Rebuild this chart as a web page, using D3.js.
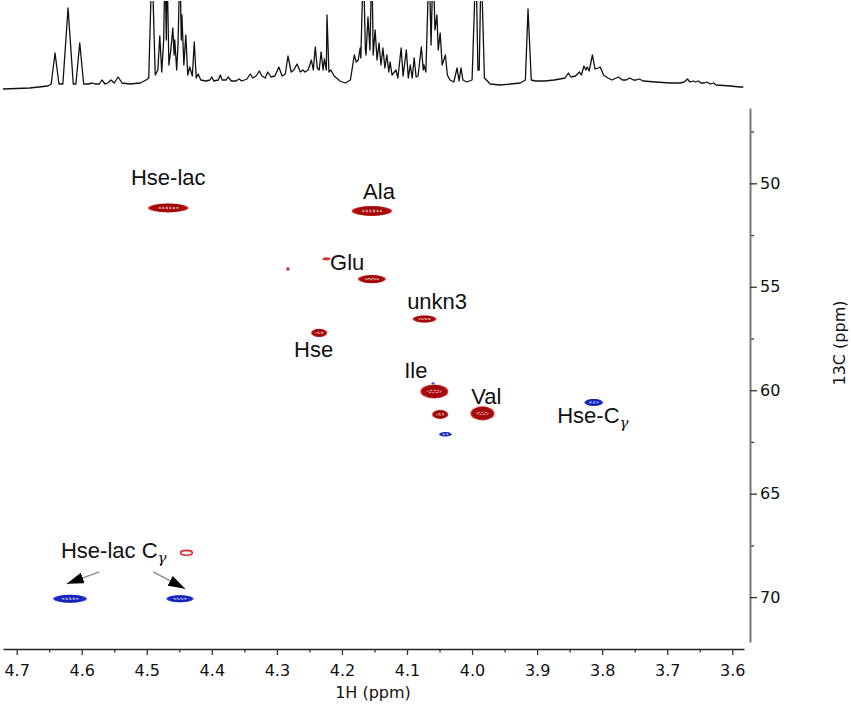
<!DOCTYPE html>
<meta charset="utf-8">

<head>
    <title>HSQC 1H-13C</title>
    <script src="https://d3js.org/d3.v7.min.js"></script>

    <style>
        body {
            margin: 0;
            background-color: white;
        }

        #svg {
            display: block;
            background-color: white;
        }

        .peak-label {
            font-family: "Liberation Sans", Arial, sans-serif;
            font-size: 22px;
            fill: #111;
        }

        .axis text,
        .axis-title {
            font-family: "DejaVu Sans", Verdana, sans-serif;
            font-size: 16px;
            fill: #111;
        }
    </style>
</head>

<body>
    <svg id="svg"></svg>

    <script>
        // 1D proton trace on top: chemical shift (ppm) and intensity (arb.)
        const specPpm = [
            4.721, 4.680, 4.652, 4.647, 4.641, 4.635, 4.629, 4.621, 4.613, 4.609, 4.603, 4.597, 4.590, 4.584, 4.580, 4.573, 4.569, 4.564, 4.560, 4.555, 4.550, 4.544, 4.538, 4.526, 4.510, 4.501, 4.497,
            4.492, 4.487, 4.483, 4.480, 4.477, 4.474, 4.472, 4.470, 4.469, 4.466, 4.463, 4.460, 4.458, 4.457, 4.454, 4.452, 4.449, 4.447, 4.446, 4.443, 4.440, 4.437, 4.434, 4.430, 4.427, 4.424, 4.421,
            4.417, 4.409, 4.403, 4.400, 4.397, 4.390, 4.387, 4.384, 4.378, 4.375, 4.370, 4.363, 4.358, 4.354, 4.346, 4.341, 4.337, 4.332, 4.327, 4.323, 4.318, 4.314, 4.309, 4.303, 4.297, 4.292, 4.287, 4.283, 4.278, 4.274, 4.269, 4.264, 4.260, 4.257, 4.252, 4.247, 4.244, 4.241, 4.238, 4.235, 4.232, 4.229, 4.227, 4.224, 4.223, 4.220, 4.217,
            4.212, 4.203, 4.195, 4.187, 4.181, 4.178, 4.175, 4.172, 4.171, 4.167, 4.164, 4.163, 4.160, 4.157, 4.154, 4.152, 4.149, 4.146, 4.143, 4.140, 4.137, 4.134, 4.131, 4.128, 4.126, 4.123,
            4.117, 4.114, 4.109, 4.106, 4.101, 4.098, 4.095, 4.092, 4.089, 4.086, 4.083, 4.078, 4.075, 4.074, 4.071, 4.066, 4.063, 4.060, 4.057, 4.054, 4.052, 4.049, 4.046, 4.041, 4.038, 4.034, 4.028, 4.023, 4.020, 4.017, 4.014, 4.008, 4.000,
            3.994, 3.991, 3.989, 3.986, 3.981, 3.972, 3.957, 3.941, 3.926, 3.918, 3.914, 3.909, 3.903, 3.888, 3.874, 3.865, 3.857, 3.852, 3.848, 3.841, 3.835, 3.832, 3.828, 3.825, 3.823, 3.820, 3.815, 3.811, 3.806, 3.803, 3.798, 3.791, 3.785, 3.775, 3.769, 3.763, 3.758, 3.752, 3.748, 3.743, 3.737, 3.718, 3.695, 3.680, 3.674, 3.669, 3.665, 3.660, 3.657, 3.652, 3.648, 3.643, 3.639, 3.634, 3.629, 3.625, 3.603, 3.588, 3.583
        ]
        const specInt = [
            1, 2, 4, 6, 37, 6, 6, 82, 6, 6, 47, 6, 6, 7, 6, 6, 10, 6, 7, 10, 7, 13, 7, 6, 7, 10, 12,
            130, 15, 20, 54, 18, 50, 130, 50, 130, 25, 40, 62, 35, 50, 20, 45, 130, 50, 75, 25, 55, 15, 23, 14, 48, 12, 16,
            10, 9, 10, 13, 9, 10, 15, 10, 10, 13, 9, 9, 11, 9, 11, 16, 12, 14, 19, 14, 12, 18, 13, 14, 23, 14, 16, 34, 18, 20, 26, 18, 20, 18, 20, 30, 20, 43, 22, 20, 38, 20, 31, 20, 75, 18, 20,
            14, 9, 7, 10, 35, 28, 30, 42, 32, 130, 40, 35, 73, 40, 130, 35, 60, 30, 47, 25, 42, 22, 35, 18, 28, 15,
            20, 12, 42, 14, 40, 12, 25, 12, 32, 13, 14, 43, 20, 25, 18, 130, 45, 130, 60, 75, 40, 57, 25, 35, 15, 10, 8, 22, 9, 22, 10, 8, 10,
            130, 20, 20, 130, 12, 6, 5, 6, 7, 10, 81, 10, 9, 9, 10, 11, 12, 17, 13, 14, 18, 15, 24, 20, 23, 19, 35, 21, 22, 23, 15, 12, 10, 13, 10, 10, 12, 10, 10, 11, 9, 8, 7, 7, 8, 11, 8, 9, 8, 9, 7, 7, 8, 6, 7, 5, 4, 3, 3
        ]

        // HSQC cross peaks: 1H shift, 13C shift, widths (ppm), phase
        const peakH = [4.467, 4.154, 4.283, 4.224, 4.154, 4.073, 4.235, 4.058, 4.060, 4.049, 3.984, 4.041, 3.813, 4.439, 4.618, 4.449]
        const peakC = [51.19, 51.34, 54.14, 53.65, 54.63, 56.56, 57.23, 60.06, 59.67, 61.17, 61.12, 62.13, 60.59, 67.86, 70.08, 70.08]
        const peakWH = [0.062, 0.062, 0.005, 0.012, 0.043, 0.037, 0.025, 0.043, 0.005, 0.025, 0.037, 0.020, 0.029, 0.018, 0.052, 0.042]
        const peakWC = [0.43, 0.48, 0.20, 0.15, 0.39, 0.34, 0.39, 0.68, 0.10, 0.43, 0.68, 0.19, 0.34, 0.24, 0.39, 0.34]
        const peakPhase = ['pos', 'pos', 'pos', 'pos', 'pos', 'pos', 'pos', 'pos', 'neg', 'pos', 'pos', 'neg', 'neg', 'weak', 'neg', 'neg']

        // assignments
        const labelText = ['Hse-lac', 'Ala', 'Glu', 'unkn3', 'Hse', 'Ile', 'Val', 'Hse-C', 'Hse-lac C']
        const labelSub = ['', '', '', '', '', '', '', 'γ', 'γ']
        const labelH = [4.5243, 4.1675, 4.2182, 4.0998, 4.2736, 4.1044, 4.0013, 3.8691, 4.6319]
        const labelC = [50.08, 50.76, 54.19, 56.07, 58.39, 59.43, 60.69, 61.60, 68.10]

        // arrows from the Hse-lac C-gamma label
        const arrowFromH = [4.573, 4.490]
        const arrowFromC = [68.78, 68.78]
        const arrowToH = [4.623, 4.441]
        const arrowToC = [69.36, 69.60]

        // axis ticks
        const hMajor = [4.7, 4.6, 4.5, 4.4, 4.3, 4.2, 4.1, 4.0, 3.9, 3.8, 3.7, 3.6]
        const hMinor = [4.65, 4.55, 4.45, 4.35, 4.25, 4.15, 4.05, 3.95, 3.85, 3.75, 3.65]
        const cMajor = [50, 55, 60, 65, 70]
        const cMinor = [47.5, 52.5, 57.5, 62.5, 67.5]

        const width = 851
        const height = 706

        let svg = d3.select('#svg')
            .attr('width', width)
            .attr('height', height)

        // scales (ppm axes run right to left / top to bottom)
        let x = d3.scaleLinear().domain([4.721, 3.582]).range([3, 744])
        let y = d3.scaleLinear().domain([46.36, 72.17]).range([108, 642])
        let yTop = d3.scaleLinear().domain([0, 90]).range([90, 0])

        // ---- 1D trace
        svg.append('clipPath')
            .attr('id', 'topclip')
            .append('rect')
            .attr('x', 0).attr('y', 1)
            .attr('width', width).attr('height', 100)

        let spec = specPpm.map((p, i) => [p, specInt[i]])
        let line = d3.line()
            .x(d => x(d[0]))
            .y(d => yTop(d[1]))

        svg.append('path')
            .datum(spec)
            .attr('clip-path', 'url(#topclip)')
            .attr('d', line)
            .attr('fill', 'none')
            .attr('stroke', '#111')
            .attr('stroke-width', 1.3)
            .attr('stroke-linejoin', 'round')

        // ---- axes
        let xMinorAxis = d3.axisBottom(x).tickValues(hMinor).tickSize(3.5).tickFormat('')
        let xAxis = d3.axisBottom(x).tickValues(hMajor).tickSize(6).tickSizeOuter(0)
            .tickPadding(10).tickFormat(d3.format('.1f'))

        svg.append('g').attr('class', 'axis')
            .attr('transform', 'translate(0,649)')
            .call(xMinorAxis)
            .call(g => g.select('.domain').remove())
            .selectAll('line').attr('stroke', '#333').attr('stroke-width', 1.3)

        let gx = svg.append('g').attr('class', 'axis')
            .attr('transform', 'translate(0,649)')
            .call(xAxis)
        gx.select('.domain').attr('stroke', '#222').attr('stroke-width', 1.6)
        gx.selectAll('line').attr('stroke', '#333').attr('stroke-width', 1.3)

        let yMinorAxis = d3.axisRight(y).tickValues(cMinor).tickSize(4).tickFormat('')
        let yAxis = d3.axisRight(y).tickValues(cMajor).tickSize(7).tickSizeOuter(0).tickPadding(3)

        svg.append('g').attr('class', 'axis')
            .attr('transform', 'translate(750,0)')
            .call(yMinorAxis)
            .call(g => g.select('.domain').remove())
            .selectAll('line').attr('stroke', '#333').attr('stroke-width', 1.3)

        let gy = svg.append('g').attr('class', 'axis')
            .attr('transform', 'translate(750,0)')
            .call(yAxis)
        gy.select('.domain').attr('stroke', '#777').attr('stroke-width', 2)
        gy.selectAll('line').attr('stroke', '#333').attr('stroke-width', 1.3)

        svg.append('text')
            .attr('class', 'axis-title')
            .attr('x', 373)
            .attr('y', 698)
            .attr('text-anchor', 'middle')
            .text('1H (ppm)')

        svg.append('text')
            .attr('class', 'axis-title')
            .attr('transform', 'translate(845,343) rotate(-90)')
            .attr('text-anchor', 'middle')
            .text('13C (ppm)')

        // ---- cross peaks drawn as nested contour rings
        const palette = {
            pos: { rim: '#d83434', fill: '#b01010', ring: '#950606', core: '#f3c4c4' },
            neg: { rim: '#3646ee', fill: '#1f2fcc', ring: '#1020a8', core: '#c4cbf8' },
            weak: { rim: '#e02a2a', fill: 'white', ring: '#e02a2a', core: 'white' }
        }
        const levels = [0.84, 0.66, 0.48]

        let peaks = peakH.map((h, i) => ({
            h: h, c: peakC[i], wh: peakWH[i], wc: peakWC[i], phase: peakPhase[i]
        }))

        let gPeaks = svg.append('g').attr('id', 'peaks')
        peaks.forEach((d) => {
            let cx = x(d.h)
            let cy = y(d.c)
            let rx = Math.abs(x(d.h + d.wh / 2) - cx)
            let ry = Math.abs(y(d.c + d.wc / 2) - cy)
            let col = palette[d.phase]
            let g = gPeaks.append('g')

            if (d.phase === 'weak') {
                g.append('ellipse')
                    .attr('cx', cx).attr('cy', cy)
                    .attr('rx', rx).attr('ry', ry)
                    .attr('fill', 'white')
                    .attr('stroke', col.rim)
                    .attr('stroke-width', 1.6)
                return
            }

            // lowest contour, lighter
            g.append('ellipse')
                .attr('cx', cx).attr('cy', cy)
                .attr('rx', rx).attr('ry', ry)
                .attr('fill', col.rim)

            if (rx < 4) return

            g.append('ellipse')
                .attr('cx', cx).attr('cy', cy)
                .attr('rx', Math.max(rx - 1.3, 1)).attr('ry', Math.max(ry - 1.3, 1))
                .attr('fill', col.fill)

            g.selectAll('.ring')
                .data(levels)
                .enter()
                .append('ellipse')
                .attr('class', 'ring')
                .attr('cx', cx).attr('cy', cy)
                .attr('rx', s => rx * s).attr('ry', s => ry * s)
                .attr('fill', 'none')
                .attr('stroke', col.ring)
                .attr('stroke-width', 0.9)

            // light centre of the highest contours
            g.append('ellipse')
                .attr('cx', cx).attr('cy', cy)
                .attr('rx', rx * 0.5).attr('ry', Math.max(ry * 0.16, 0.6))
                .attr('fill', 'none')
                .attr('stroke', col.core)
                .attr('stroke-width', 0.9)
                .attr('stroke-dasharray', '2,1.5')
        })

        // ---- arrows
        svg.append('defs').append('marker')
            .attr('id', 'head')
            .attr('markerUnits', 'userSpaceOnUse')
            .attr('markerWidth', 17)
            .attr('markerHeight', 11)
            .attr('refX', 17)
            .attr('refY', 5.5)
            .attr('orient', 'auto')
            .append('path')
            .attr('d', 'M0,0 L17,5.5 L0,11 Z')
            .attr('fill', '#000')

        arrowFromH.forEach((h, i) => {
            svg.append('line')
                .attr('x1', x(h)).attr('y1', y(arrowFromC[i]))
                .attr('x2', x(arrowToH[i])).attr('y2', y(arrowToC[i]))
                .attr('stroke', '#8a8a8a')
                .attr('stroke-width', 1.3)
                .attr('marker-end', 'url(#head)')
        })

        // ---- labels
        labelText.forEach((t, i) => {
            let txt = svg.append('text')
                .attr('class', 'peak-label')
                .attr('x', x(labelH[i]))
                .attr('y', y(labelC[i]))
                .text(t)
            if (labelSub[i] !== '') {
                txt.append('tspan')
                    .attr('dy', 5)
                    .attr('font-size', 15)
                    .attr('font-style', 'italic')
                    .attr('font-family', '"DejaVu Serif", serif')
                    .text(labelSub[i])
            }
        })
    </script>

</body>

</html>
